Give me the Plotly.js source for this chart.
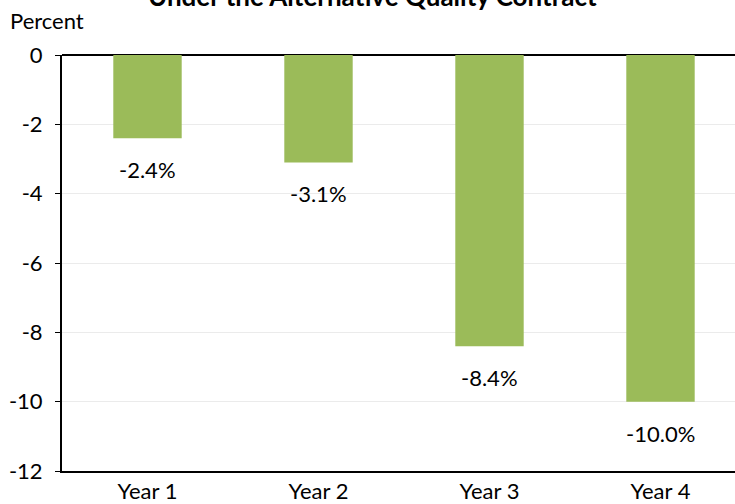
<!DOCTYPE html>
<html><head><meta charset="utf-8">
<script src="https://cdn.plot.ly/plotly-3.0.1.min.js"></script>
<style>html,body{margin:0;padding:0;background:#fff;}#chart{width:735px;height:504px;}</style>
</head><body><div id="chart"></div>
<script>
const categories = ["Year 1", "Year 2", "Year 3", "Year 4"];
const values = [-2.4, -3.1, -8.4, -10.0];
const labels = ["-2.4%", "-3.1%", "-8.4%", "-10.0%"];
const yTicks = [0, -2, -4, -6, -8, -10, -12];

const FONT = "Lato, 'Open Sans', sans-serif";

const trace = {
  type: "bar",
  x: categories,
  y: values,
  width: 0.4,
  marker: {color: "#9BBB59"},
  hoverinfo: "skip"
};

const annotations = categories.map((c, i) => ({
  x: c, y: values[i], xref: "x", yref: "y",
  text: labels[i], showarrow: false,
  xanchor: "center", yanchor: "top", yshift: -16,
  font: {family: FONT, size: 22, color: "#000"}
}));
annotations.push({
  xref: "paper", yref: "paper", x: 0, y: 1, xshift: -54, yshift: 35,
  xanchor: "left", yanchor: "middle", showarrow: false,
  text: "Percent", font: {family: FONT, size: 22, color: "#000"}
});
annotations.push({
  xref: "paper", yref: "paper", x: (372 - 62) / 673, y: 1, yshift: 59,
  xanchor: "center", yanchor: "middle", showarrow: false,
  text: "<b>Under the Alternative Quality Contract</b>",
  font: {family: FONT, size: 26, color: "#000"}
});

const layout = {
  width: 735, height: 504,
  margin: {l: 62, r: 0, t: 55, b: 33},
  paper_bgcolor: "#fff", plot_bgcolor: "#fff",
  showlegend: false,
  xaxis: {
    type: "category",
    range: [-0.5, -0.5 + 673 / 171],
    showline: true, linecolor: "#000", linewidth: 2,
    ticks: "", showgrid: false, zeroline: false,
    tickfont: {family: FONT, size: 22, color: "#000"}
  },
  yaxis: {
    range: [-12, 0],
    tickvals: yTicks,
    ticktext: yTicks.map(String),
    showline: true, linecolor: "#000", linewidth: 2,
    ticks: "outside", ticklen: 5, tickwidth: 1, tickcolor: "#000",
    showgrid: true, gridcolor: "#ebebeb", gridwidth: 1,
    zeroline: true, zerolinecolor: "#000", zerolinewidth: 2,
    tickfont: {family: FONT, size: 22, color: "#000"},
    ticklabelstandoff: 8
  },
  annotations: annotations
};

Plotly.newPlot("chart", [trace], layout, {staticPlot: true, displayModeBar: false});
</script></body></html>
